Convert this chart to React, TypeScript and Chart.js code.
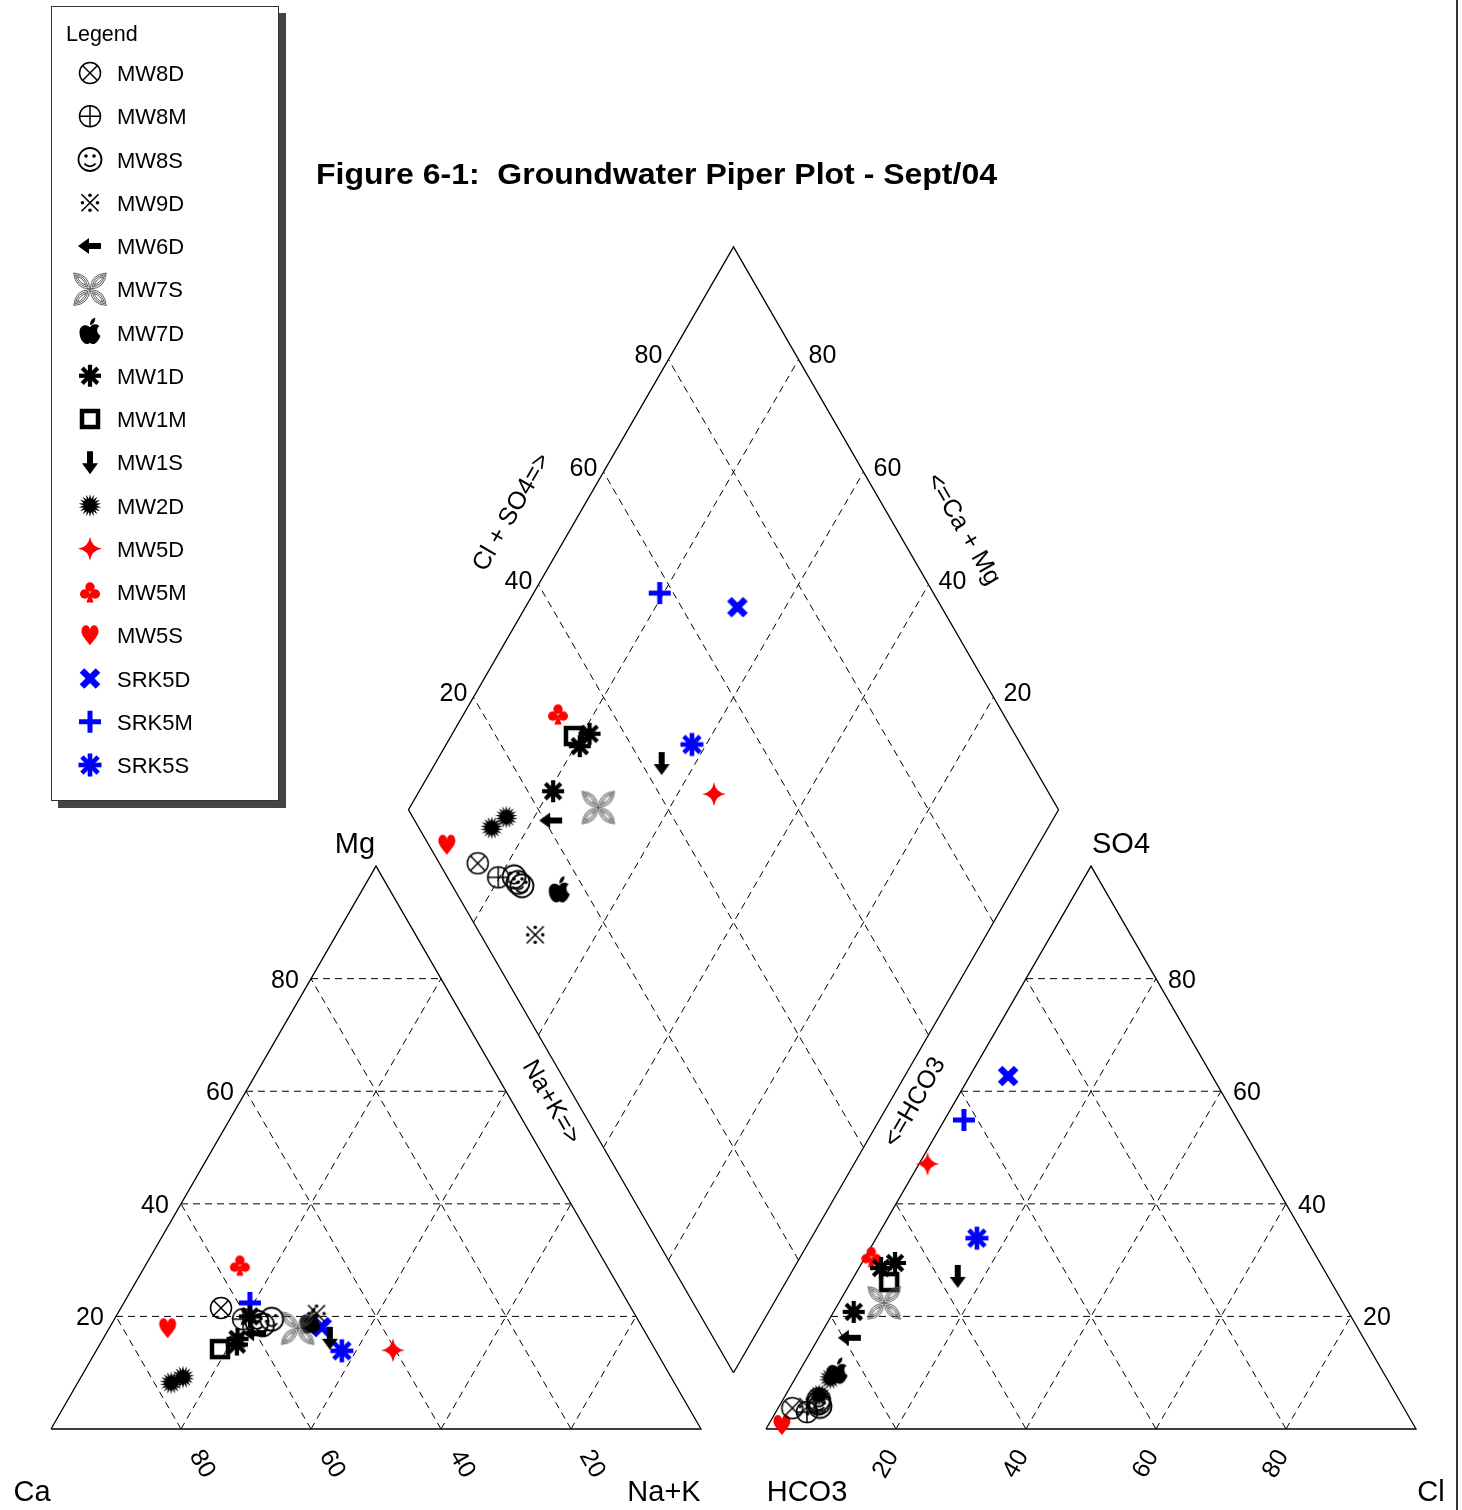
import React, { useEffect, useRef } from "react";
import { Chart, registerables } from "chart.js";
Chart.register(...registerables);

// ---------- layout constants (geometry of the Piper plot) ----------
const CANVAS_W = 1462;
const CANVAS_H = 1510;
const UNIT_PX = 6.5;
const LEFT_PX = 51;
const BASE_PX = 1429;
const GAP = 10;
const S3 = Math.sqrt(3) / 2;
const X_MIN = -LEFT_PX / UNIT_PX;
const X_MAX = (CANVAS_W - LEFT_PX) / UNIT_PX;
const Y_MIN = (BASE_PX - CANVAS_H) / UNIT_PX;
const Y_MAX = BASE_PX / UNIT_PX;

// ---------- data ----------
const TITLE = "Figure 6-1:  Groundwater Piper Plot - Sept/04";
const GRID_VALUES = [20, 40, 60, 80];
const TICK_LABELS = ["20", "40", "60", "80"];

const seriesNames = ["MW8D", "MW8M", "MW8S", "MW9D", "MW6D", "MW7S", "MW7D", "MW1D", "MW1M", "MW1S", "MW2D", "MW5D", "MW5M", "MW5S", "SRK5D", "SRK5M", "SRK5S"];
const seriesColors = ["#000000", "#000000", "#000000", "#000000", "#000000", "#555555", "#000000", "#000000", "#000000", "#000000", "#000000", "#ff0000", "#ff0000", "#ff0000", "#0000ff", "#0000ff", "#0000ff"];
const seriesSymbols = ["circleX", "circlePlus", "smiley", "refMark", "arrowLeft", "butterfly", "apple", "asteriskBold", "squareHollow", "arrowDown", "starburst", "star4", "club", "heart", "crossX", "plusBold", "asterisk"];

// one entry per sample (percent of meq)
const sampleSeries = ["MW8D", "MW8M", "MW8S", "MW8S", "MW8S", "MW9D", "MW6D", "MW7S", "MW7D", "MW1D", "MW1D", "MW1D", "MW1M", "MW1S", "MW2D", "MW2D", "MW5D", "MW5M", "MW5S", "SRK5D", "SRK5M", "SRK5S"];
const caPct = [63.1, 60.7, 58.8, 58.2, 56.3, 48.9, 60.1, 53.1, 50.6, 59.4, 63.9, 63.3, 66.9, 49.0, 75.1, 77.4, 40.4, 56.4, 73.1, 49.3, 58.2, 48.3];
const mgPct = [21.5, 19.5, 19.0, 18.5, 19.5, 20.5, 17.0, 17.9, 19.0, 20.0, 15.0, 16.0, 14.2, 16.2, 9.2, 8.2, 14.0, 29.1, 17.9, 18.1, 22.4, 13.9];
const naKPct = [15.4, 19.8, 22.2, 23.3, 24.2, 30.6, 22.9, 29.0, 30.4, 20.6, 21.1, 20.7, 18.9, 34.8, 15.7, 14.4, 45.6, 14.5, 9.0, 32.6, 19.4, 37.8];
const hco3Pct = [94.1, 92.2, 89.7, 89.6, 89.3, 91.6, 79.0, 70.6, 84.0, 76.1, 65.4, 68.0, 68.0, 56.9, 85.6, 88.8, 51.6, 68.5, 97.2, 31.4, 42.1, 50.6];
const so4Pct = [3.7, 3.0, 4.0, 4.6, 5.2, 4.0, 16.2, 22.4, 10.1, 20.8, 29.5, 28.6, 26.1, 27.2, 9.0, 6.0, 47.1, 30.6, 0.7, 62.7, 54.9, 33.9];
const clPct = [2.2, 4.8, 6.3, 5.8, 5.5, 4.4, 4.8, 7.0, 5.9, 3.1, 5.1, 3.4, 5.9, 15.9, 5.4, 5.2, 1.3, 0.9, 2.1, 5.9, 3.0, 15.5];

// ---------- ternary transforms ----------
type P = { x: number; y: number };
const cat = (mg: number, nak: number): P => ({ x: nak + mg / 2, y: mg * S3 });
const an = (so4: number, cl: number): P => ({ x: 100 + GAP + cl + so4 / 2, y: so4 * S3 });
const dia = (nak: number, hco3: number): P => ({
  x: 100 + GAP / 2 + 0.5 * (nak - hco3),
  y: GAP * S3 + S3 * (200 - nak - hco3),
});

const FONT = '"Liberation Sans", Arial, Helvetica, sans-serif';

function drawSymbol(g: CanvasRenderingContext2D, kind: string, color: string) {
  g.fillStyle = color;
  g.strokeStyle = color;
  g.lineCap = "butt";
  const line = (x1: number, y1: number, x2: number, y2: number) => {
    g.beginPath();
    g.moveTo(x1, y1);
    g.lineTo(x2, y2);
    g.stroke();
  };
  const dot = (x: number, y: number, r: number) => {
    g.beginPath();
    g.arc(x, y, r, 0, Math.PI * 2);
    g.fill();
  };
  switch (kind) {
    case "circleX": {
      g.lineWidth = 1.5;
      g.beginPath();
      g.arc(0, 0, 10.5, 0, Math.PI * 2);
      g.stroke();
      const d = 10.5 * Math.SQRT1_2;
      line(-d, -d, d, d);
      line(d, -d, -d, d);
      break;
    }
    case "circlePlus": {
      g.lineWidth = 1.5;
      g.beginPath();
      g.arc(0, 0, 10.5, 0, Math.PI * 2);
      g.stroke();
      line(-10.5, 0, 10.5, 0);
      line(0, -10.5, 0, 10.5);
      break;
    }
    case "smiley": {
      g.lineWidth = 1.8;
      g.beginPath();
      g.arc(0, 0, 11.5, 0, Math.PI * 2);
      g.stroke();
      dot(-4, -3.5, 1.8);
      dot(4, -3.5, 1.8);
      g.beginPath();
      g.arc(0, 0, 6.8, 0.2 * Math.PI, 0.8 * Math.PI);
      g.stroke();
      break;
    }
    case "refMark": {
      g.lineWidth = 1.6;
      line(-8.5, -8.5, 8.5, 8.5);
      line(8.5, -8.5, -8.5, 8.5);
      dot(0, -7.5, 1.8);
      dot(0, 7.5, 1.8);
      dot(-7.5, 0, 1.8);
      dot(7.5, 0, 1.8);
      break;
    }
    case "arrowLeft": {
      g.beginPath();
      g.moveTo(-12, 0);
      g.lineTo(-1, -8);
      g.lineTo(-1, -3);
      g.lineTo(11, -3);
      g.lineTo(11, 3);
      g.lineTo(-1, 3);
      g.lineTo(-1, 8);
      g.closePath();
      g.fill();
      break;
    }
    case "arrowDown": {
      g.beginPath();
      g.moveTo(0, 12);
      g.lineTo(-8, 1);
      g.lineTo(-3, 1);
      g.lineTo(-3, -11);
      g.lineTo(3, -11);
      g.lineTo(3, 1);
      g.lineTo(8, 1);
      g.closePath();
      g.fill();
      break;
    }
    case "butterfly": {
      g.lineWidth = 0.9;
      for (let i = 0; i < 4; i++) {
        g.save();
        g.rotate(Math.PI / 4 + (i * Math.PI) / 2);
        g.beginPath();
        g.moveTo(0.5, 0);
        g.quadraticCurveTo(11, -10, 23, 0);
        g.quadraticCurveTo(11, 10, 0.5, 0);
        g.stroke();
        g.beginPath();
        g.moveTo(3, 0);
        g.quadraticCurveTo(12, -6.5, 20.5, 0);
        g.quadraticCurveTo(12, 6.5, 3, 0);
        g.stroke();
        g.beginPath();
        g.moveTo(5.5, 0);
        g.quadraticCurveTo(12.5, -3, 18, 0);
        g.quadraticCurveTo(12.5, 3, 5.5, 0);
        g.stroke();
        g.restore();
      }
      break;
    }
    case "apple": {
      g.save();
      g.scale(1.05, 1.05);
      g.beginPath();
      g.moveTo(0, -5);
      g.bezierCurveTo(-3, -8, -10, -8, -10, 0);
      g.bezierCurveTo(-10, 6, -6, 11, -3, 11);
      g.bezierCurveTo(-1, 11, -1, 10, 0, 10);
      g.bezierCurveTo(1, 10, 1, 11, 3, 11);
      g.bezierCurveTo(6, 11, 9, 6, 10, 3);
      g.bezierCurveTo(6, 1, 6, -5, 9, -6);
      g.bezierCurveTo(6, -9, 2, -8, 0, -5);
      g.closePath();
      g.fill();
      g.beginPath();
      g.moveTo(0, -7);
      g.quadraticCurveTo(0, -13, 5, -14);
      g.quadraticCurveTo(5, -8, 0, -7);
      g.fill();
      g.restore();
      break;
    }
    case "asteriskBold":
    case "asterisk": {
      const r = kind === "asterisk" ? 11.5 : 11;
      g.lineWidth = kind === "asterisk" ? 4.6 : 4.2;
      for (let i = 0; i < 4; i++) {
        const a = (i * Math.PI) / 4;
        line(-r * Math.cos(a), -r * Math.sin(a), r * Math.cos(a), r * Math.sin(a));
      }
      break;
    }
    case "squareHollow": {
      g.lineWidth = 4.5;
      g.strokeRect(-8, -8, 16, 16);
      break;
    }
    case "starburst": {
      const n = 18;
      g.beginPath();
      for (let i = 0; i < n * 2; i++) {
        const r = i % 2 === 0 ? 11.5 : 6.5;
        const a = (i * Math.PI) / n - Math.PI / 2;
        const x = r * Math.cos(a);
        const y = r * Math.sin(a);
        if (i === 0) g.moveTo(x, y);
        else g.lineTo(x, y);
      }
      g.closePath();
      g.fill();
      break;
    }
    case "star4": {
      const R = 12;
      const c = 1.5;
      g.beginPath();
      g.moveTo(0, -R);
      g.quadraticCurveTo(c, -c, R, 0);
      g.quadraticCurveTo(c, c, 0, R);
      g.quadraticCurveTo(-c, c, -R, 0);
      g.quadraticCurveTo(-c, -c, 0, -R);
      g.closePath();
      g.fill();
      break;
    }
    case "club": {
      dot(0, -5, 4.7);
      dot(-5.3, 2, 4.7);
      dot(5.3, 2, 4.7);
      g.beginPath();
      g.moveTo(0, -1);
      g.lineTo(-3.5, 10.5);
      g.lineTo(3.5, 10.5);
      g.closePath();
      g.fill();
      break;
    }
    case "heart": {
      g.save();
      g.scale(0.85, 1);
      g.beginPath();
      g.moveTo(0, 10);
      g.bezierCurveTo(-4, 5, -10, 1, -10, -4);
      g.bezierCurveTo(-10, -8, -7, -10, -5, -10);
      g.bezierCurveTo(-2, -10, 0, -8, 0, -5);
      g.bezierCurveTo(0, -8, 2, -10, 5, -10);
      g.bezierCurveTo(7, -10, 10, -8, 10, -4);
      g.bezierCurveTo(10, 1, 4, 5, 0, 10);
      g.closePath();
      g.fill();
      g.restore();
      break;
    }
    case "crossX": {
      g.lineWidth = 6.5;
      line(-8, -8, 8, 8);
      line(8, -8, -8, 8);
      break;
    }
    case "plusBold": {
      g.lineWidth = 5;
      line(-11, 0, 11, 0);
      line(0, -11, 0, 11);
      break;
    }
  }
}

function makeSymbol(kind: string, color: string): HTMLCanvasElement {
  const size = 44;
  const c = document.createElement("canvas");
  c.width = size;
  c.height = size;
  const g = c.getContext("2d")!;
  g.translate(size / 2, size / 2);
  drawSymbol(g, kind, color);
  return c;
}

const TEXT_DY = 2;

function txt(
  ctx: CanvasRenderingContext2D,
  s: string,
  x: number,
  y: number,
  size: number,
  opts: { bold?: boolean; align?: CanvasTextAlign; rot?: number; sx?: number } = {}
) {
  ctx.save();
  ctx.font = `${opts.bold ? "bold " : ""}${size}px ${FONT}`;
  ctx.fillStyle = "#000";
  ctx.textAlign = opts.align || "center";
  ctx.textBaseline = "middle";
  ctx.translate(x, y + TEXT_DY);
  if (opts.rot) ctx.rotate((opts.rot * Math.PI) / 180);
  if (opts.sx) ctx.scale(opts.sx, 1);
  ctx.fillText(s, 0, 0);
  ctx.restore();
}

export default function App() {
  const ref = useRef<HTMLCanvasElement>(null);

  useEffect(() => {
    const canvas = ref.current!;
    const symbols = seriesNames.map((_, i) => makeSymbol(seriesSymbols[i], seriesColors[i]));

    // ----- outline and grid segments -----
    const solid: P[][] = [
      [cat(0, 0), cat(0, 100), cat(100, 0), cat(0, 0)],
      [an(0, 0), an(0, 100), an(100, 0), an(0, 0)],
      [dia(100, 100), dia(0, 100), dia(0, 0), dia(100, 0), dia(100, 100)],
    ];
    const dashed: P[][] = [];
    GRID_VALUES.forEach((k) => {
      dashed.push([cat(k, 0), cat(k, 100 - k)]);
      dashed.push([cat(0, k), cat(100 - k, k)]);
      dashed.push([cat(0, 100 - k), cat(100 - k, 0)]);
      dashed.push([an(k, 0), an(k, 100 - k)]);
      dashed.push([an(0, k), an(100 - k, k)]);
      dashed.push([an(0, 100 - k), an(100 - k, 0)]);
      dashed.push([dia(k, 100), dia(k, 0)]);
      dashed.push([dia(100, k), dia(0, k)]);
    });

    const lineDatasets: any[] = [
      ...solid.map((pts) => ({
        type: "scatter",
        data: pts,
        showLine: true,
        borderColor: "#000",
        borderWidth: 1.3,
        pointRadius: 0,
        fill: false,
        order: 100,
      })),
      ...dashed.map((pts) => ({
        type: "scatter",
        data: pts,
        showLine: true,
        borderColor: "#000",
        borderWidth: 1,
        borderDash: [7, 5],
        pointRadius: 0,
        fill: false,
        order: 101,
      })),
    ];

    const pointDatasets = seriesNames.map((name, si) => {
      const data: P[] = [];
      sampleSeries.forEach((s, i) => {
        if (s !== name) return;
        data.push(cat(mgPct[i], naKPct[i]));
        data.push(an(so4Pct[i], clPct[i]));
        data.push(dia(naKPct[i], hco3Pct[i]));
      });
      return {
        type: "scatter",
        label: name,
        data,
        pointStyle: symbols[si],
        pointRadius: 10,
        showLine: false,
        order: si,
      };
    });

    const decor = {
      id: "piperDecor",
      beforeDraw(chart: any) {
        const ctx = chart.ctx as CanvasRenderingContext2D;
        ctx.save();
        ctx.fillStyle = "#fff";
        ctx.fillRect(0, 0, chart.width, chart.height);
        ctx.restore();
      },
      afterDraw(chart: any) {
        const ctx = chart.ctx as CanvasRenderingContext2D;
        const xs = chart.scales.x;
        const ys = chart.scales.y;
        const px = (p: P) => ({ x: xs.getPixelForValue(p.x), y: ys.getPixelForValue(p.y) });

        GRID_VALUES.forEach((k, i) => {
          const lab = TICK_LABELS[i];
          let p = px(cat(k, 0));
          txt(ctx, lab, p.x - 26, p.y, 25);
          p = px(an(k, 100 - k));
          txt(ctx, lab, p.x + 26, p.y, 25);
          p = px(cat(0, 100 - k));
          txt(ctx, lab, p.x + 21, p.y + 33, 25, { rot: 60 });
          p = px(an(0, k));
          txt(ctx, lab, p.x - 10, p.y + 33, 25, { rot: -60 });
          p = px(dia(0, 100 - k));
          txt(ctx, lab, p.x - 20, p.y - 5, 25);
          p = px(dia(100 - k, 0));
          txt(ctx, lab, p.x + 24, p.y - 5, 25);
        });

        let p = px(cat(100, 0));
        txt(ctx, "Mg", p.x - 21, p.y - 23, 29);
        p = px(an(100, 0));
        txt(ctx, "SO4", p.x + 30, p.y - 23, 29);
        p = px(cat(0, 0));
        txt(ctx, "Ca", p.x - 19, p.y + 62, 29);
        p = px(cat(0, 100));
        txt(ctx, "Na+K", p.x - 37, p.y + 62, 29);
        p = px(an(0, 0));
        txt(ctx, "HCO3", p.x + 41, p.y + 62, 29);
        p = px(an(0, 100));
        txt(ctx, "Cl", p.x + 15, p.y + 62, 29);

        p = px(dia(0, 50));
        txt(ctx, "Cl + SO4=>", p.x - 59, p.y - 18, 25, { rot: -60 });
        p = px(dia(50, 0));
        txt(ctx, "<=Ca + Mg", p.x + 67, p.y - 1, 25, { rot: 60 });
        p = px(dia(50, 100));
        txt(ctx, "Na+K=>", p.x - 20, p.y + 9, 25, { rot: 60 });
        p = px(dia(100, 50));
        txt(ctx, "<=HCO3", p.x + 19, p.y + 9, 25, { rot: -60 });

        ctx.save();
        ctx.font = `bold 30px ${FONT}`;
        const tw = ctx.measureText(TITLE).width;
        ctx.restore();
        txt(ctx, TITLE, 316, 174, 30, { bold: true, align: "left", sx: 681 / tw });

        ctx.save();
        ctx.fillStyle = "#444";
        ctx.fillRect(58, 13, 228, 795);
        ctx.fillStyle = "#fff";
        ctx.fillRect(51, 6, 228, 795);
        ctx.strokeStyle = "#333";
        ctx.lineWidth = 1;
        ctx.strokeRect(51.5, 6.5, 227, 794);
        ctx.restore();
        txt(ctx, "Legend", 66, 33, 21.5, { align: "left" });
        seriesNames.forEach((name, i) => {
          const y = 73 + i * 43.25;
          ctx.save();
          ctx.translate(90, y);
          drawSymbol(ctx, seriesSymbols[i], seriesColors[i]);
          ctx.restore();
          txt(ctx, name, 117, y, 22, { align: "left" });
        });

        ctx.save();
        ctx.strokeStyle = "#333";
        ctx.lineWidth = 2;
        ctx.beginPath();
        ctx.moveTo(1457, 0);
        ctx.lineTo(1457, chart.height);
        ctx.stroke();
        ctx.restore();
      },
    };

    const chart = new Chart(canvas, {
      type: "scatter",
      data: { datasets: [...pointDatasets, ...lineDatasets] as any },
      options: {
        responsive: false,
        maintainAspectRatio: false,
        devicePixelRatio: 1,
        animation: false,
        events: [],
        layout: { padding: 0, autoPadding: false },
        plugins: { legend: { display: false }, tooltip: { enabled: false }, title: { display: false } },
        scales: {
          x: { type: "linear", min: X_MIN, max: X_MAX, display: false },
          y: { type: "linear", min: Y_MIN, max: Y_MAX, display: false },
        },
      },
      plugins: [decor],
    } as any);
    return () => chart.destroy();
  }, []);

  return (
    <div style={{ position: "absolute", left: 0, top: 0, width: CANVAS_W, height: CANVAS_H }}>
      <canvas ref={ref} width={CANVAS_W} height={CANVAS_H} style={{ display: "block", width: CANVAS_W, height: CANVAS_H }} />
    </div>
  );
}
